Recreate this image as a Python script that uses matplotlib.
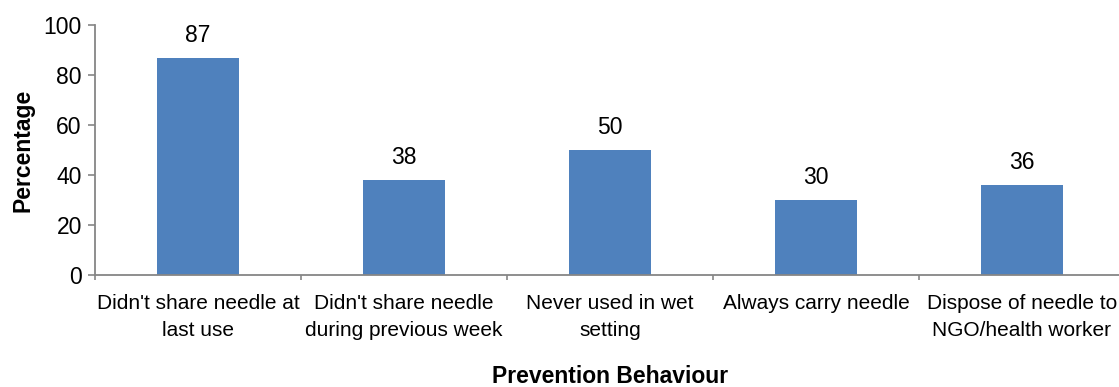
import matplotlib
matplotlib.use("Agg")
import matplotlib.pyplot as plt
import numpy as np

plt.rcParams['font.family'] = ['Liberation Sans', 'DejaVu Sans']

categories = ["Didn't share needle at\nlast use",
              "Didn't share needle\nduring previous week",
              "Never used in wet\nsetting",
              "Always carry needle",
              "Dispose of needle to\nNGO/health worker"]
values = [87, 38, 50, 30, 36]
yticks = [0, 20, 40, 60, 80, 100]

W, H = 1119, 387
fig = plt.figure(figsize=(W / 100, H / 100), dpi=100)
# plot area runs a bit past the right edge, as in the original
ax = fig.add_axes([95 / W, 112 / H, 1030 / W, 250 / H])

x = np.arange(len(categories))
ax.bar(x, values, width=0.4, color='#4F81BD')
for xi, v in zip(x, values):
    ax.annotate(str(v), (xi, v), xytext=(0, 11.5), textcoords='offset points',
                ha='center', va='baseline', fontsize=16.5)

ax.set_xlim(-0.5, len(categories) - 0.5)
ax.set_ylim(0, 100)
ax.set_yticks(yticks)
ax.tick_params(axis='y', labelsize=16.5, length=5, width=1.2, color='#868686', pad=4.5)

# ticks between categories, labels centred under bars
ax.set_xticks(np.arange(len(categories) + 1) - 0.5)
ax.set_xticklabels([])
ax.tick_params(axis='x', length=3.6, width=1.2, color='#868686')
ax.set_xticks(x, minor=True)
ax.set_xticklabels(categories, minor=True, fontsize=15, linespacing=1.5)
ax.tick_params(axis='x', which='minor', length=0, pad=14)

for s in ['top', 'right']:
    ax.spines[s].set_visible(False)
for s in ['left', 'bottom']:
    ax.spines[s].set_color('#868686')
    ax.spines[s].set_linewidth(1.3)

fig.text(22.5 / W, 1 - 150 / H, 'Percentage', rotation=90, ha='center', va='center',
         fontsize=16.5, fontweight='bold')
fig.text(610 / W, 1 - 383 / H, 'Prevention Behaviour', ha='center', va='baseline',
         fontsize=16.5, fontweight='bold')

fig.savefig('out.png', dpi=100)
